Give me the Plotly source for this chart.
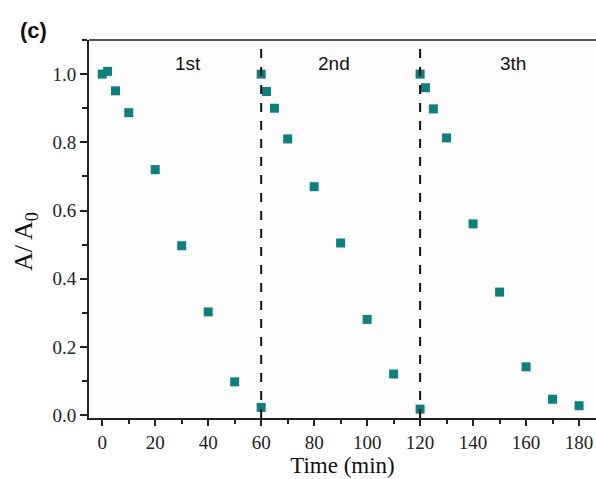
import plotly.graph_objects as go

time_1 = [0, 2, 5, 10, 20, 30, 40, 50, 60]
ratio_1 = [1.0, 1.008, 0.951, 0.887, 0.72, 0.497, 0.303, 0.098, 0.023]
time_2 = [60, 62, 65, 70, 80, 90, 100, 110, 120]
ratio_2 = [1.0, 0.949, 0.90, 0.81, 0.67, 0.505, 0.281, 0.121, 0.018]
time_3 = [120, 122, 125, 130, 140, 150, 160, 170, 180]
ratio_3 = [1.0, 0.96, 0.898, 0.813, 0.561, 0.361, 0.142, 0.047, 0.028]
cycle_labels = ["1st", "2nd", "3th"]
cycle_label_x = [32.5, 87.5, 155]
cycle_breaks = [60, 120]
x_ticks = [0, 20, 40, 60, 80, 100, 120, 140, 160, 180]
y_ticks = [0.0, 0.2, 0.4, 0.6, 0.8, 1.0]

teal = "#0a8080"
fig = go.Figure()
for xs, ys in [(time_1, ratio_1), (time_2, ratio_2), (time_3, ratio_3)]:
    fig.add_trace(go.Scatter(x=xs, y=ys, mode="markers",
                             marker=dict(symbol="square", size=9, color=teal),
                             showlegend=False, cliponaxis=False))

for b in cycle_breaks:
    fig.add_shape(type="line", xref="x", yref="paper", x0=b, x1=b, y0=0, y1=1,
                  line=dict(color="#111", width=2, dash="dash"))
fig.add_shape(type="line", xref="paper", yref="paper", x0=0, x1=1, y0=1, y1=1,
              line=dict(color="#555", width=2))

for lab, lx in zip(cycle_labels, cycle_label_x):
    fig.add_annotation(x=lx, y=1.032, xref="x", yref="y", text=lab, showarrow=False,
                       font=dict(family="Liberation Sans, Arial", size=19, color="#111"))

fig.add_annotation(xref="paper", yref="paper", x=-0.14, y=1.024, text="<b>(c)</b>",
                   showarrow=False, xanchor="left", yanchor="middle",
                   font=dict(family="Liberation Sans, Arial", size=22, color="#111"))

fig.add_annotation(xref="paper", yref="paper", x=-0.126, y=0.466, text="A/ A<sub>0</sub>",
                   showarrow=False, textangle=-90, xanchor="center", yanchor="middle",
                   font=dict(family="Liberation Serif, Times New Roman", size=26, color="#111"))

axis_font = dict(family="Liberation Serif, Times New Roman", size=19, color="#222")
fig.update_xaxes(range=[-5, 186.4], tickvals=x_ticks, ticks="outside", ticklen=6, tickwidth=1.5,
                 tickcolor="#222", showline=True, linecolor="#222", linewidth=2,
                 showgrid=False, zeroline=False, tickfont=axis_font, automargin=False,
                 minor=dict(dtick=10, ticks="outside", ticklen=4, tickwidth=1.5, tickcolor="#222"),
                 title=dict(text="Time (min)", font=dict(family="Liberation Serif, Times New Roman", size=23, color="#111"), standoff=2))
fig.update_yaxes(range=[-0.008, 1.1], tickvals=y_ticks, ticktext=[f"{v:.1f}" for v in y_ticks],
                 ticks="outside", ticklen=7, tickwidth=1.5,
                 tickcolor="#222", showline=True, linecolor="#222", linewidth=2,
                 showgrid=False, zeroline=False, tickfont=axis_font, automargin=False,
                 minor=dict(dtick=0.1, ticks="outside", ticklen=5, tickwidth=1.5, tickcolor="#222"))

fig.update_layout(width=596, height=479, margin=dict(l=89, r=0, t=40, b=61),
                  plot_bgcolor="#fcfcfc", paper_bgcolor="white")
fig.write_html("out.html", config={"displayModeBar": False},
               post_script="document.body.style.margin='0';")
